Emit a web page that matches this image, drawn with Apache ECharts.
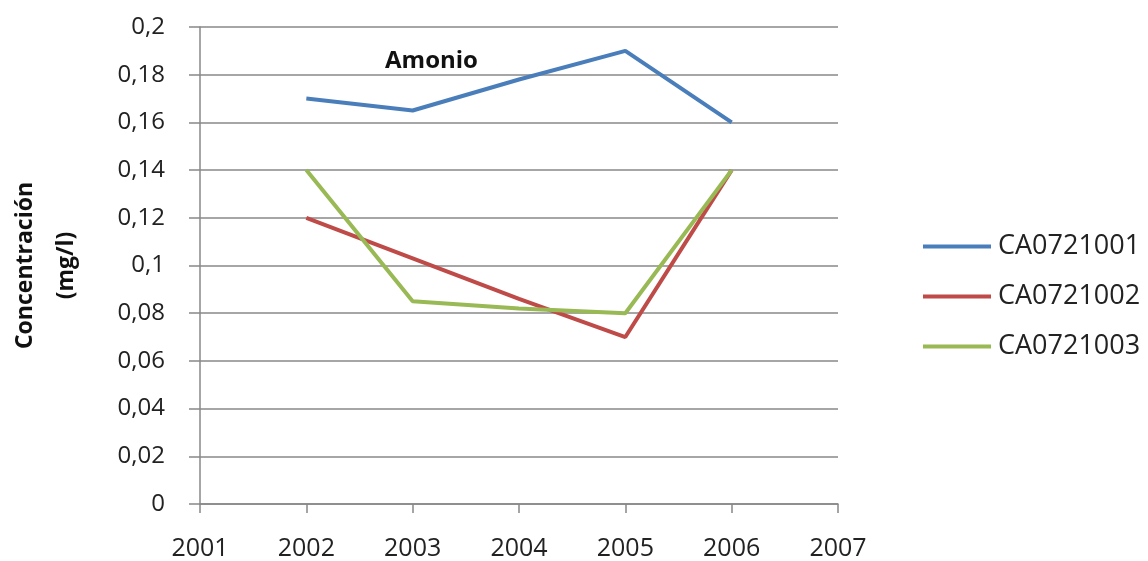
<!DOCTYPE html>
<html>
<head>
<meta charset="utf-8">
<script src="https://cdn.jsdelivr.net/npm/echarts@6/dist/echarts.min.js"></script>
<style>
  html, body { margin: 0; padding: 0; background: #fff; }
  #main { width: 1148px; height: 561px; }
</style>
</head>
<body>
<div id="main"></div>
<script>
// datos
var years = [2002, 2003, 2004, 2005, 2006];
var ca0721001 = [0.170, 0.165, 0.178, 0.190, 0.160];
var ca0721002 = [0.120, 0.103, 0.086, 0.070, 0.140];
var ca0721003 = [0.140, 0.085, 0.082, 0.080, 0.140];
var seriesNames = ['CA0721001', 'CA0721002', 'CA0721003'];
var colors = ['#4a7ebb', '#be4b48', '#98b954'];

var font = '"Open Sans", "DejaVu Sans", sans-serif';

function pairs(vals) {
	return vals.map(function (v, i) { return [years[i], v]; });
}

var chart = echarts.init(document.getElementById('main'));

chart.setOption({
	animation: false,
	backgroundColor: '#fff',
	color: colors,
	title: {
		text: 'Amonio',
		left: 380,
		top: 44,
		textStyle: { fontFamily: font, fontSize: 24, fontWeight: 'bold', color: '#111' }
	},
	legend: {
		orient: 'vertical',
		left: 918,
		top: 228,
		itemWidth: 68,
		itemHeight: 4,
		itemGap: 23,
		icon: 'rect',
		data: seriesNames,
		textStyle: { fontFamily: font, fontSize: 27, color: '#222', padding: [0, 0, 0, 2] }
	},
	grid: { left: 200, right: 310, top: 27, bottom: 57, outerBoundsMode: 'none' },
	xAxis: {
		type: 'value',
		min: 2001,
		max: 2007,
		interval: 1,
		axisLine: { lineStyle: { color: '#888', width: 1.5 } },
		axisTick: { show: true, length: 9, lineStyle: { color: '#888', width: 1.5 } },
		axisLabel: {
			fontFamily: font, fontSize: 25, color: '#222', margin: 32,
			formatter: function (v) { return String(v); }
		},
		splitLine: { show: false }
	},
	yAxis: {
		type: 'value',
		min: 0,
		max: 0.2,
		interval: 0.02,
		name: 'Concentración\n(mg/l)',
		nameLocation: 'middle',
		nameGap: 113,
		nameTextStyle: { fontFamily: font, fontSize: 23, fontWeight: 'bold', color: '#111', lineHeight: 41 },
		axisLine: { show: true, lineStyle: { color: '#888', width: 1.5 } },
		axisTick: { show: true, length: 11, lineStyle: { color: '#888', width: 1.5 } },
		axisLabel: {
			fontFamily: font, fontSize: 24, color: '#222', margin: 35,
			formatter: function (v) { return String(+v.toFixed(2)).replace('.', ','); }
		},
		splitLine: { lineStyle: { color: '#888', width: 1.5 } }
	},
	series: [
		{ name: seriesNames[0], type: 'line', data: pairs(ca0721001), showSymbol: false, lineStyle: { width: 4 } },
		{ name: seriesNames[1], type: 'line', data: pairs(ca0721002), showSymbol: false, lineStyle: { width: 4 } },
		{ name: seriesNames[2], type: 'line', data: pairs(ca0721003), showSymbol: false, lineStyle: { width: 4 } }
	]
});
</script>
</body>
</html>
